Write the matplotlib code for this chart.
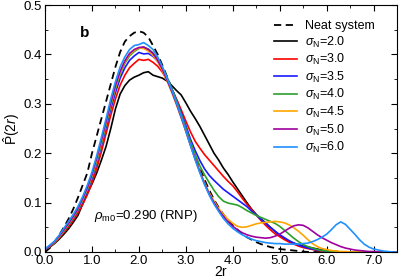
import matplotlib
matplotlib.use("Agg")
import matplotlib.pyplot as plt
import numpy as np
from matplotlib.ticker import MultipleLocator, FormatStrFormatter

plt.rcParams["font.family"] = ["Liberation Sans", "DejaVu Sans"]
plt.rcParams["mathtext.fontset"] = "custom"
plt.rcParams["mathtext.rm"] = "Liberation Sans"
plt.rcParams["mathtext.it"] = "Liberation Sans:italic"
plt.rcParams["mathtext.bf"] = "Liberation Sans:bold"

# data, 2r from 0.0 to 7.5 in steps of 0.1
r2 = np.round(np.arange(0, 76) * 0.1, 1)

neat = [0.000, 0.008, 0.020, 0.034, 0.050, 0.067, 0.087, 0.110, 0.135, 0.160,
        0.200, 0.235, 0.270, 0.305, 0.340, 0.375, 0.405, 0.426, 0.437, 0.444,
        0.447, 0.444, 0.435, 0.418, 0.400, 0.378, 0.355, 0.332, 0.305, 0.277,
        0.250, 0.222, 0.195, 0.170, 0.146, 0.125, 0.106, 0.090, 0.076, 0.064,
        0.054, 0.045, 0.037, 0.030, 0.025, 0.020, 0.016, 0.013, 0.010, 0.008,
        0.006, 0.005, 0.004, 0.003, 0.002, 0.001, 0.000, 0.000, 0.000, 0.000,
        0.000, 0.000, 0.000, 0.000, 0.000, 0.000, 0.000, 0.000, 0.000, 0.000,
        0.000, 0.000, 0.000, 0.000, 0.000, 0.000]

s20 = [0.004, 0.010, 0.017, 0.026, 0.036, 0.047, 0.060, 0.074, 0.097, 0.118,
       0.138, 0.160, 0.186, 0.214, 0.250, 0.290, 0.320, 0.337, 0.348, 0.354,
       0.358, 0.363, 0.365, 0.358, 0.355, 0.352, 0.346, 0.337, 0.327, 0.318,
       0.302, 0.285, 0.270, 0.254, 0.236, 0.218, 0.200, 0.186, 0.170, 0.157,
       0.142, 0.128, 0.114, 0.100, 0.087, 0.076, 0.067, 0.059, 0.050, 0.042,
       0.034, 0.027, 0.022, 0.018, 0.015, 0.012, 0.010, 0.008, 0.006, 0.004,
       0.003, 0.002, 0.001, 0.000, 0.000, 0.000, 0.000, 0.000, 0.000, 0.000,
       0.000, 0.000, 0.000, 0.000, 0.000, 0.000]

s30 = [0.005, 0.011, 0.018, 0.028, 0.039, 0.051, 0.064, 0.079, 0.096, 0.116,
       0.140, 0.169, 0.203, 0.240, 0.277, 0.310, 0.338, 0.358, 0.373, 0.382,
       0.390, 0.388, 0.390, 0.384, 0.376, 0.364, 0.348, 0.330, 0.310, 0.288,
       0.265, 0.243, 0.224, 0.210, 0.197, 0.186, 0.175, 0.164, 0.153, 0.143,
       0.134, 0.122, 0.109, 0.097, 0.086, 0.075, 0.064, 0.054, 0.045, 0.037,
       0.031, 0.025, 0.020, 0.016, 0.012, 0.009, 0.007, 0.005, 0.003, 0.002,
       0.001, 0.000, 0.000, 0.000, 0.000, 0.000, 0.000, 0.000, 0.000, 0.000,
       0.000, 0.000, 0.000, 0.000, 0.000, 0.000]

s35 = [0.006, 0.012, 0.020, 0.030, 0.042, 0.055, 0.068, 0.084, 0.102, 0.123,
       0.149, 0.180, 0.215, 0.252, 0.290, 0.323, 0.352, 0.373, 0.388, 0.397,
       0.404, 0.401, 0.402, 0.396, 0.386, 0.371, 0.352, 0.331, 0.307, 0.282,
       0.256, 0.228, 0.205, 0.185, 0.168, 0.155, 0.145, 0.136, 0.127, 0.120,
       0.113, 0.106, 0.099, 0.092, 0.083, 0.075, 0.066, 0.058, 0.050, 0.042,
       0.035, 0.029, 0.023, 0.018, 0.014, 0.011, 0.008, 0.006, 0.004, 0.003,
       0.002, 0.001, 0.000, 0.000, 0.000, 0.000, 0.000, 0.000, 0.000, 0.000,
       0.000, 0.000, 0.000, 0.000, 0.000, 0.000]

s40 = [0.005, 0.011, 0.019, 0.030, 0.042, 0.055, 0.069, 0.085, 0.104, 0.126,
       0.152, 0.183, 0.219, 0.257, 0.296, 0.330, 0.360, 0.382, 0.397, 0.406,
       0.412, 0.415, 0.411, 0.403, 0.391, 0.374, 0.354, 0.331, 0.306, 0.279,
       0.251, 0.223, 0.197, 0.174, 0.156, 0.140, 0.125, 0.112, 0.103, 0.099,
       0.097, 0.095, 0.090, 0.084, 0.079, 0.074, 0.070, 0.066, 0.062, 0.058,
       0.052, 0.044, 0.036, 0.028, 0.021, 0.015, 0.011, 0.008, 0.005, 0.003,
       0.002, 0.001, 0.000, 0.000, 0.000, 0.000, 0.000, 0.000, 0.000, 0.000,
       0.000, 0.000, 0.000, 0.000, 0.000, 0.000]

s45 = [0.005, 0.012, 0.020, 0.031, 0.044, 0.057, 0.071, 0.087, 0.106, 0.128,
       0.155, 0.187, 0.223, 0.261, 0.300, 0.334, 0.363, 0.385, 0.400, 0.408,
       0.413, 0.412, 0.407, 0.398, 0.385, 0.367, 0.346, 0.323, 0.298, 0.272,
       0.244, 0.216, 0.189, 0.163, 0.140, 0.120, 0.103, 0.088, 0.076, 0.066,
       0.058, 0.052, 0.050, 0.051, 0.054, 0.057, 0.059, 0.060, 0.061, 0.062,
       0.061, 0.059, 0.055, 0.049, 0.042, 0.034, 0.025, 0.017, 0.011, 0.007,
       0.005, 0.003, 0.002, 0.001, 0.001, 0.000, 0.000, 0.000, 0.000, 0.000,
       0.000, 0.000, 0.000, 0.000, 0.000, 0.000]

s50 = [0.005, 0.012, 0.021, 0.032, 0.045, 0.058, 0.072, 0.088, 0.108, 0.130,
       0.157, 0.190, 0.226, 0.264, 0.302, 0.337, 0.366, 0.387, 0.402, 0.410,
       0.414, 0.415, 0.410, 0.402, 0.388, 0.370, 0.348, 0.325, 0.300, 0.273,
       0.245, 0.216, 0.188, 0.162, 0.138, 0.117, 0.100, 0.085, 0.072, 0.061,
       0.052, 0.045, 0.039, 0.035, 0.032, 0.030, 0.029, 0.028, 0.029, 0.032,
       0.036, 0.042, 0.048, 0.053, 0.055, 0.054, 0.049, 0.042, 0.035, 0.029,
       0.024, 0.019, 0.015, 0.011, 0.008, 0.006, 0.004, 0.003, 0.002, 0.001,
       0.001, 0.000, 0.000, 0.000, 0.000, 0.000]

s60 = [0.006, 0.014, 0.022, 0.034, 0.048, 0.062, 0.076, 0.092, 0.112, 0.135,
       0.162, 0.195, 0.232, 0.270, 0.310, 0.345, 0.375, 0.395, 0.410, 0.418,
       0.420, 0.424, 0.418, 0.410, 0.395, 0.375, 0.352, 0.328, 0.302, 0.275,
       0.245, 0.215, 0.186, 0.160, 0.136, 0.115, 0.097, 0.082, 0.068, 0.057,
       0.048, 0.041, 0.035, 0.030, 0.026, 0.023, 0.021, 0.019, 0.018, 0.017,
       0.017, 0.016, 0.016, 0.016, 0.016, 0.017, 0.018, 0.021, 0.025, 0.030,
       0.036, 0.045, 0.055, 0.061, 0.056, 0.046, 0.036, 0.025, 0.016, 0.010,
       0.006, 0.004, 0.002, 0.001, 0.000, 0.000]

series = [
    (s20, "black", r"$\sigma_\mathrm{N}$=2.0"),
    (s30, "#ff0000", r"$\sigma_\mathrm{N}$=3.0"),
    (s35, "#1a1aff", r"$\sigma_\mathrm{N}$=3.5"),
    (s40, "#2ca02c", r"$\sigma_\mathrm{N}$=4.0"),
    (s45, "#ffa500", r"$\sigma_\mathrm{N}$=4.5"),
    (s50, "#a000a0", r"$\sigma_\mathrm{N}$=5.0"),
    (s60, "#1e90ff", r"$\sigma_\mathrm{N}$=6.0"),
]

fig = plt.figure(figsize=(3.99, 2.80), dpi=100)
ax = fig.add_axes([0.113, 0.1, 0.882, 0.882])

ax.plot(r2, neat, color="black", linestyle=(0, (4, 2.5)), linewidth=1.3,
        label="Neat system")
for vals, col, lab in series:
    ax.plot(r2, vals, color=col, linewidth=1.2, label=lab)

ax.set_xlim(0, 7.5)
ax.set_ylim(0, 0.5)
ax.xaxis.set_major_locator(MultipleLocator(1.0))
ax.xaxis.set_minor_locator(MultipleLocator(0.5))
ax.yaxis.set_major_locator(MultipleLocator(0.1))
ax.yaxis.set_minor_locator(MultipleLocator(0.05))
ax.xaxis.set_major_formatter(FormatStrFormatter("%.1f"))
ax.yaxis.set_major_formatter(FormatStrFormatter("%.1f"))
ax.tick_params(which="both", direction="in", top=True, right=True,
               labelsize=9.5)
ax.tick_params(axis="x", pad=2)
ax.tick_params(axis="y", pad=2)
ax.tick_params(which="major", length=4)
ax.tick_params(which="minor", length=2.5)

ax.set_xlabel("2r", fontsize=10, labelpad=-1)
ax.set_ylabel(r"$\hat{\mathrm{P}}(2r)$", fontsize=10, labelpad=1)

ax.text(0.85, 0.443, "b", fontsize=11, fontweight="bold", ha="center",
        va="center")
ax.text(1.05, 0.073, r"$\rho_{\mathrm{m0}}$=0.290 (RNP)", fontsize=9.5,
        ha="left", va="center")

ax.legend(loc="upper left", bbox_to_anchor=(0.635, 0.96), frameon=False,
          fontsize=9, handlelength=1.9, handletextpad=0.6, labelspacing=0.2,
          borderaxespad=0)

fig.savefig("out.png", dpi=100)
